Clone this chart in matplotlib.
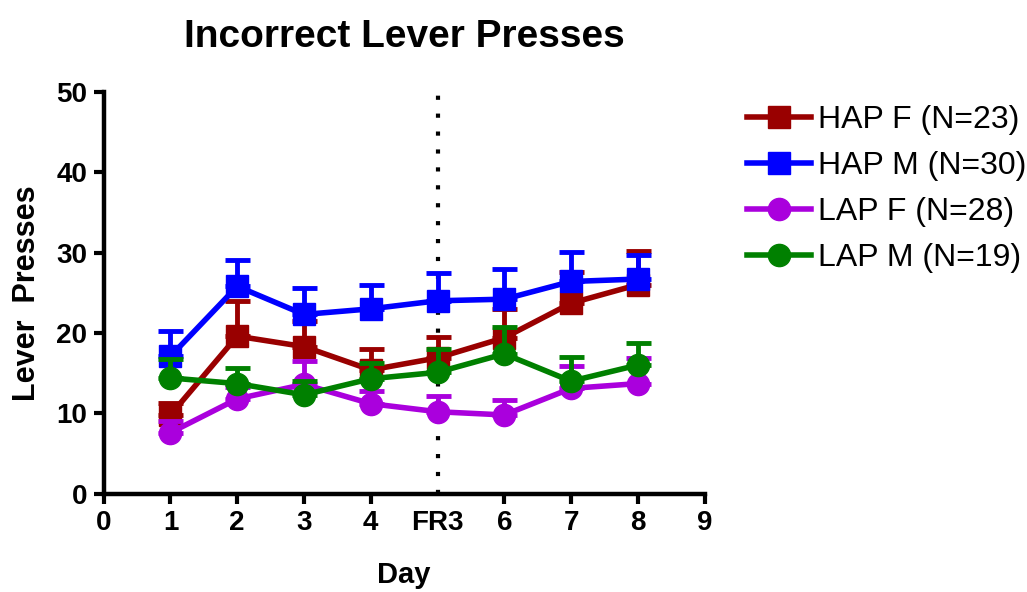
import matplotlib.pyplot as plt

plt.rcParams['font.family'] = ['Liberation Sans', 'DejaVu Sans']

days = [1, 2, 3, 4, 5, 6, 7, 8]
x_ticks = [0, 1, 2, 3, 4, 5, 6, 7, 8, 9]
x_labels = ["0", "1", "2", "3", "4", "FR3", "6", "7", "8", "9"]

hap_f = [9.8, 19.6, 18.3, 15.4, 16.9, 19.4, 23.7, 26.0]
hap_f_sem = [1.5, 4.4, 3.2, 2.6, 2.6, 3.6, 3.9, 4.2]
hap_m = [17.1, 25.8, 22.3, 23.0, 24.0, 24.2, 26.4, 26.7]
hap_m_sem = [3.2, 3.3, 3.3, 3.0, 3.4, 3.8, 3.7, 3.0]
lap_f = [7.6, 11.8, 13.6, 11.2, 10.2, 9.8, 13.1, 13.7]
lap_f_sem = [1.4, 1.5, 2.9, 1.6, 2.0, 1.9, 2.8, 3.2]
lap_m = [14.4, 13.7, 12.3, 14.3, 15.1, 17.4, 14.0, 16.0]
lap_m_sem = [2.4, 2.0, 1.7, 2.0, 2.9, 3.3, 3.0, 2.7]

series = [
    ("HAP F (N=23)", hap_f, hap_f_sem, "#990000", "s"),
    ("HAP M (N=30)", hap_m, hap_m_sem, "#0000ff", "s"),
    ("LAP F (N=28)", lap_f, lap_f_sem, "#aa00dd", "o"),
    ("LAP M (N=19)", lap_m, lap_m_sem, "#008000", "o"),
]

fig = plt.figure(figsize=(10.27, 5.92), dpi=100)
ax = fig.add_axes([0.101, 0.166, 0.585, 0.679])

# dotted line marking the FR3 switch
ax.axvline(5, color="black", lw=3, linestyle=(0, (1, 3.3)), zorder=1)

for i, (label, vals, sem, color, marker) in enumerate(series):
    ax.errorbar(days, vals, yerr=[[0] * len(sem), sem], color=color,
                marker=marker, markersize=16, lw=4, elinewidth=3.5,
                capsize=9, capthick=3.5, label=label, zorder=2 + i)

ax.set_xlim(0, 9)
ax.set_ylim(0, 50)
ax.set_xticks(x_ticks)
ax.set_xticklabels(x_labels)
ax.set_yticks([0, 10, 20, 30, 40, 50])
ax.xaxis.get_major_ticks()[5].tick1line.set_visible(False)

for side in ["top", "right"]:
    ax.spines[side].set_visible(False)
for side in ["left", "bottom"]:
    ax.spines[side].set_linewidth(3.2)
ax.tick_params(direction="out", length=7, width=3, labelsize=20, pad=5)
for lab in ax.get_xticklabels() + ax.get_yticklabels():
    lab.set_fontweight("bold")

ax.set_xlabel("Day", fontsize=21, fontweight="bold", labelpad=18)
ax.set_ylabel("Lever  Presses", fontsize=22, fontweight="bold", labelpad=10)
ax.set_title("Incorrect Lever Presses", fontsize=28, fontweight="bold", pad=32)

handles, labels = ax.get_legend_handles_labels()
handles = [h[0] for h in handles]
ax.legend(handles, labels, loc="upper left", bbox_to_anchor=(1.05, 0.998),
          frameon=False, fontsize=23, handlelength=2.0, labelspacing=0.5,
          handletextpad=0.2, borderaxespad=0)

fig.savefig("out.png", dpi=100)
